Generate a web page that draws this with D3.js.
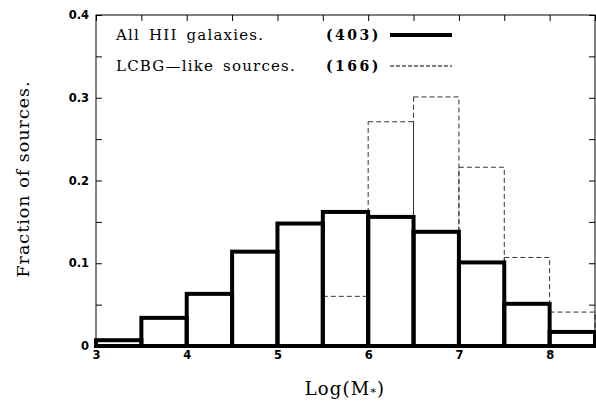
<!DOCTYPE html>
<html lang="en">
<head>
<meta charset="UTF-8">
<title>Fraction of sources vs Log(M*)</title>
<script src="https://d3js.org/d3.v7.min.js"></script>
<style>
  body { margin: 0; background: #fff; }
  .tick text { font-family: "DejaVu Sans", sans-serif; font-weight: bold; font-size: 11.5px; fill: #000; }
  .tick line { stroke: #000; stroke-width: 1; }
</style>
</head>
<body>
<svg id="chart" width="596" height="403"></svg>
<script>
// histogram bins (lower edges, width 0.5 in Log(M*))
const binStart = [3, 3.5, 4, 4.5, 5, 5.5, 6, 6.5, 7, 7.5, 8];
const binWidth = 0.5;
// fraction of sources per bin
const allHII = [0.007, 0.034, 0.063, 0.114, 0.148, 0.162, 0.156, 0.138, 0.101, 0.051, 0.017];
const lcbgLike = [0, 0, 0, 0, 0, 0.060, 0.271, 0.301, 0.216, 0.107, 0.041];
// axis ticks
const xTicks = [3, 4, 5, 6, 7, 8];
const xMinor = [3.5, 4.5, 5.5, 6.5, 7.5, 8.5];
const yTicks = [0, 0.1, 0.2, 0.3, 0.4];
const yMinor = [0.05, 0.15, 0.25, 0.35];
const yTickLabels = ['0', '0.1', '0.2', '0.3', '0.4'];

const svg = d3.select('#chart');
const plotLeft = 96, plotRight = 595, plotTop = 15, plotBottom = 346;
const serif = '"DejaVu Serif", "Liberation Serif", serif';

const x = d3.scaleLinear().domain([3, 8.5]).range([plotLeft, plotRight]);
const y = d3.scaleLinear().domain([0, 0.4]).range([plotBottom, plotTop]);

// dashed LCBG histogram (drawn first, thin)
svg.append('g').selectAll('rect')
    .data(binStart.map((b, i) => ({ b, v: lcbgLike[i] })).filter(d => d.v > 0))
    .enter().append('rect')
    .attr('x', d => x(d.b))
    .attr('width', d => x(d.b + binWidth) - x(d.b))
    .attr('y', d => y(d.v))
    .attr('height', d => y(0) - y(d.v))
    .attr('fill', 'none')
    .attr('stroke', '#333')
    .attr('stroke-width', 1)
    .attr('stroke-dasharray', '5,3');

// thick all-HII histogram
svg.append('g').selectAll('rect')
    .data(binStart.map((b, i) => ({ b, v: allHII[i] })))
    .enter().append('rect')
    .attr('x', d => x(d.b))
    .attr('width', d => x(d.b + binWidth) - x(d.b))
    .attr('y', d => y(d.v))
    .attr('height', d => y(0) - y(d.v))
    .attr('fill', 'none')
    .attr('stroke', '#000')
    .attr('stroke-width', 4);

// frame
svg.append('rect')
    .attr('x', plotLeft).attr('y', plotTop)
    .attr('width', plotRight - plotLeft).attr('height', plotBottom - plotTop)
    .attr('fill', 'none').attr('stroke', '#000').attr('stroke-width', 1);

const tl = 6;
// bottom axis
svg.append('g').attr('transform', `translate(0,${plotBottom})`)
    .call(d3.axisBottom(x).tickValues(xTicks).tickSize(-tl).tickPadding(5).tickFormat(d3.format('d')))
    .call(g => g.select('.domain').remove());
svg.append('g').attr('transform', `translate(0,${plotBottom})`)
    .call(d3.axisBottom(x).tickValues(xMinor).tickSize(-tl).tickFormat(''))
    .call(g => g.select('.domain').remove());
// top axis
svg.append('g').attr('transform', `translate(0,${plotTop})`)
    .call(d3.axisTop(x).tickValues(xTicks.concat(xMinor)).tickSize(-tl).tickFormat(''))
    .call(g => g.select('.domain').remove());
// left axis
svg.append('g').attr('transform', `translate(${plotLeft},0)`)
    .call(d3.axisLeft(y).tickValues(yTicks).tickSize(-tl).tickPadding(7).tickFormat((d, i) => yTickLabels[i]))
    .call(g => g.select('.domain').remove());
svg.append('g').attr('transform', `translate(${plotLeft},0)`)
    .call(d3.axisLeft(y).tickValues(yMinor).tickSize(-tl).tickFormat(''))
    .call(g => g.select('.domain').remove());
// right axis
svg.append('g').attr('transform', `translate(${plotRight},0)`)
    .call(d3.axisRight(y).tickValues(yTicks.concat(yMinor)).tickSize(-tl).tickFormat(''))
    .call(g => g.select('.domain').remove());

// axis titles
svg.append('text')
    .attr('transform', `translate(29,179) rotate(-90)`)
    .attr('text-anchor', 'middle')
    .style('font-family', serif)
    .style('font-size', '17.5px')
    .style('letter-spacing', '1px')
    .text('Fraction of sources.');

const xt = svg.append('text')
    .attr('x', 345).attr('y', 395)
    .attr('text-anchor', 'middle')
    .style('font-family', serif)
    .style('font-size', '18px')
    .style('letter-spacing', '1.2px');
xt.append('tspan').text('Log(M');
xt.append('tspan').attr('font-size', '11px').attr('dy', 1).text('*');
xt.append('tspan').attr('dy', -1).text(')');

// legend
const legendItems = [
  { label: 'All HII galaxies.', n: '(403)', width: 4, dash: null, y: 35 },
  { label: 'LCBG\u2014like sources.', n: '(166)', width: 1, dash: '4,2', y: 66 }
];
const lg = svg.append('g');
legendItems.forEach(d => {
  lg.append('text').attr('x', 116).attr('y', d.y + 5)
    .style('font-family', serif)
    .style('font-size', '15px').style('letter-spacing', '1.2px')
    .style('word-spacing', '3px')
    .text(d.label);
  lg.append('text').attr('x', 326).attr('y', d.y + 5)
    .style('font-family', serif)
    .style('font-weight', 'bold')
    .style('font-size', '14px').style('letter-spacing', '2.5px')
    .text(d.n);
  lg.append('line').attr('x1', 390).attr('x2', 452)
    .attr('y1', d.y).attr('y2', d.y)
    .attr('stroke', '#000').attr('stroke-width', d.width)
    .attr('stroke-dasharray', d.dash);
});
</script>
</body>
</html>
